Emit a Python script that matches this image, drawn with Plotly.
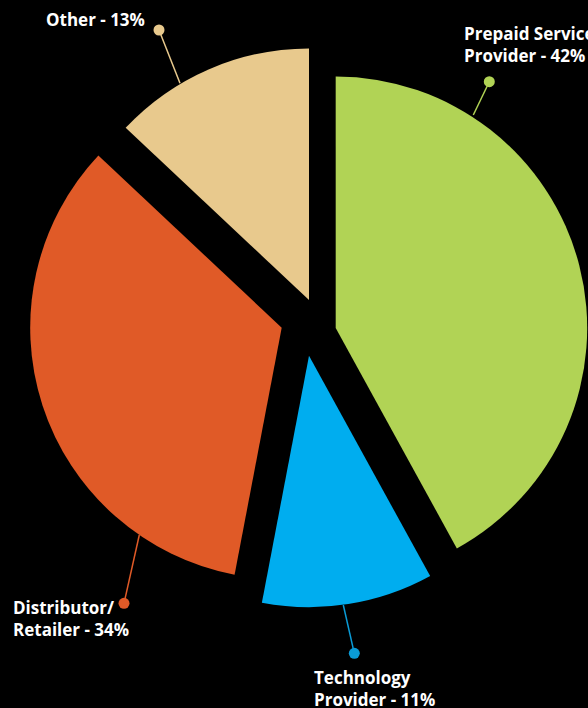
import plotly.graph_objects as go

# ---- data ----
labels = ["Prepaid Service Provider", "Technology Provider", "Distributor/Retailer", "Other"]
values = [42, 11, 34, 13]
label_text = ["Prepaid Service<br>Provider - 42%", "Technology<br>Provider - 11%",
              "Distributor/<br>Retailer - 34%", "Other - 13%"]
colors = ["#b1d355", "#00adef", "#e05a27", "#e8c98d"]
dot_colors = ["#b1d355", "#0a9bd6", "#e05a27", "#e8c98d"]

# ---- layout geometry (pixels) ----
W, H = 588, 708
R = 251.5
apex = [(335.7, 328.0), (309.0, 355.7), (281.7, 327.7), (309.0, 300.0)]  # exploded slice tips
leader = [((473.3, 115.0), (489.3, 81.7)),
          ((343.3, 605.0), (354.3, 653.3)),
          ((139.3, 535.0), (124.0, 603.3)),
          ((180.0, 83.3), (159.0, 30.0))]
text_pos = [(462, 20), (312, 664), (11, 594), (44, 6)]

def px(x):
    return x / W

def py(y):
    return 1 - y / H

fig = go.Figure()
for i in range(len(values)):
    ax, ay = apex[i]
    cols = ["rgba(0,0,0,0)"] * len(values)
    cols[i] = colors[i]
    fig.add_trace(go.Pie(
        labels=labels, values=values, sort=False, direction="clockwise", rotation=0,
        marker=dict(colors=cols, line=dict(width=0)),
        textinfo="none", showlegend=False, hoverinfo="label+percent",
        domain=dict(x=[px(ax - R), px(ax + R)], y=[py(ay + R), py(ay - R)]),
    ))

shapes = []
annotations = []
for i in range(len(values)):
    (x0, y0), (x1, y1) = leader[i]
    shapes.append(dict(type="line", xref="paper", yref="paper",
                       x0=px(x0), y0=py(y0), x1=px(x1), y1=py(y1),
                       line=dict(color=dot_colors[i], width=1.5)))
    rd = 5.5
    shapes.append(dict(type="circle", xref="paper", yref="paper",
                       x0=px(x1 - rd), x1=px(x1 + rd), y0=py(y1 + rd), y1=py(y1 - rd),
                       fillcolor=dot_colors[i], line=dict(width=0)))
    tx, ty = text_pos[i]
    annotations.append(dict(xref="paper", yref="paper", x=px(tx), y=py(ty),
                            xanchor="left", yanchor="top", align="left", showarrow=False,
                            text="<b>" + label_text[i] + "</b>",
                            font=dict(family="Open Sans", size=17, color="#ffffff")))

fig.update_layout(width=W, height=H, margin=dict(l=0, r=0, t=0, b=0, pad=0),
                  paper_bgcolor="#000000", plot_bgcolor="#000000",
                  shapes=shapes, annotations=annotations, showlegend=False)

fig.write_html("out.html", config={"displayModeBar": False},
               post_script="document.body.style.margin='0';document.body.style.background='#000';")
